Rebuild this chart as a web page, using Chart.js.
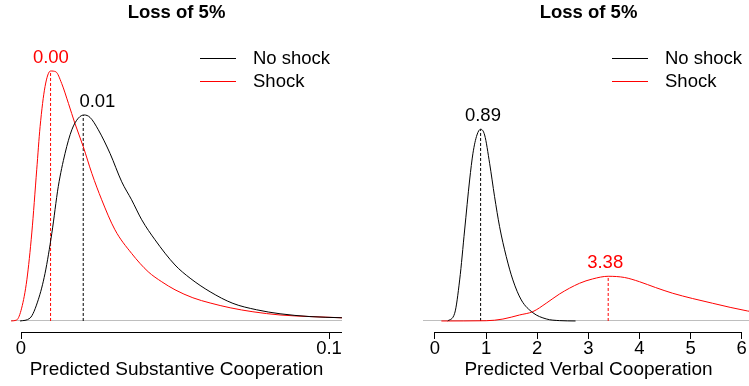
<!DOCTYPE html>
<html>
<head>
<meta charset="utf-8">
<title>Loss of 5%</title>
<script src="https://cdn.jsdelivr.net/npm/chart.js"></script>
<style>
  html, body { margin: 0; padding: 0; overflow: hidden; background: #fff; }
  body { width: 749px; height: 386px; position: relative; }
  .panel { position: absolute; top: 0; width: 374px; height: 386px; }
  #p1 { left: 0; }
  #p2 { left: 412px; }
</style>
</head>
<body>
<div class="panel" id="p1"><canvas id="subst" width="374" height="386"></canvas></div>
<div class="panel" id="p2"><canvas id="verbal" width="374" height="386"></canvas></div>
<script>
const seriesNames = ['No shock', 'Shock'];
const seriesColors = ['#000000', '#ff0000'];

// left: predicted substantive cooperation (densities)
const substNoShockX = [-0.0003, 0.0029, 0.0056, 0.0078, 0.0100, 0.0121, 0.0143, 0.0165, 0.0186, 0.0205, 0.0224, 0.0251, 0.0289, 0.0327, 0.0359, 0.0392, 0.0435, 0.0500, 0.0549, 0.0614, 0.0688, 0.0765, 0.0841, 0.0938, 0.1042];
const substNoShockY = [0, 0.7, 5.3, 11.9, 21.9, 33.6, 41.9, 47.8, 50.7, 51.5, 50.9, 47.8, 41.9, 34.8, 30.3, 25.3, 20.3, 14.0, 10.7, 7.3, 4.4, 2.8, 1.8, 1.1, 0.8];
const substShockX = [-0.0036, -0.0014, 0.0002, 0.0019, 0.0035, 0.0051, 0.0062, 0.0078, 0.0096, 0.0113, 0.0132, 0.0154, 0.0175, 0.0202, 0.0230, 0.0262, 0.0305, 0.0359, 0.0413, 0.0457, 0.0500, 0.0558, 0.0614, 0.0679, 0.0753, 0.0841, 0.0938, 0.1042];
const substShockY = [0, 0.25, 3.2, 10.3, 22, 37.8, 48.6, 58.6, 62.5, 62.3, 59.4, 54.4, 49.4, 43.6, 36.9, 30.3, 22.8, 16.9, 12.3, 9.8, 7.8, 5.8, 4.5, 3.3, 2.3, 1.5, 1.1, 0.8];
const substModeX = [0.0202, 0.0096];
const substModeY = [51.5, 62.5];
const substModeLabels = ['0.01', '0.00'];
const substLabelX = [0.0248, 0.0097];
const substTicks = [0, 0.1];

// right: predicted verbal cooperation
const verbalNoShockX = [0.25, 0.385, 0.483, 0.58, 0.678, 0.743, 0.821, 0.893, 0.971, 1.069, 1.166, 1.264, 1.395, 1.524, 1.689, 1.915, 2.177, 2.437, 2.75];
const verbalNoShockY = [0, 0.064, 0.342, 0.758, 1.175, 1.398, 1.55, 1.598, 1.55, 1.314, 1.036, 0.786, 0.536, 0.342, 0.175, 0.069, 0.017, 0.003, 0];
const verbalShockX = [0.125, 1.004, 1.329, 1.655, 1.915, 2.177, 2.437, 2.828, 3.082, 3.389, 3.707, 4.0, 4.313, 4.651, 5.036, 5.433, 6.117, 6.248];
const verbalShockY = [0, 0.002, 0.016, 0.05, 0.078, 0.148, 0.225, 0.314, 0.35, 0.3725, 0.3625, 0.3275, 0.279, 0.231, 0.1875, 0.1475, 0.083, 0.075];
const verbalModeX = [0.893, 3.389];
const verbalModeY = [1.598, 0.3725];
const verbalModeLabels = ['0.89', '3.38'];
const verbalLabelX = [0.938, 3.33];
const verbalTicks = [0, 1, 2, 3, 4, 5, 6];

const fontFamily = '"Liberation Sans", Arial, Helvetica, sans-serif';
const textSize = 18.5;
Chart.defaults.font.family = fontFamily;
Chart.defaults.color = '#000';

const zip = (xs, ys) => xs.map((x, i) => ({ x: x, y: ys[i] }));

// R-style axis line, mode labels and the legend in the top right
const extras = {
  id: 'extras',
  afterDatasetsDraw(chart, args, o) {
    const { ctx, chartArea: area, scales: { x, y } } = chart;
    ctx.save();
    ctx.lineWidth = 1;
    ctx.strokeStyle = '#000';
    const ay = Math.round(area.bottom) + 0.5;
    ctx.beginPath();
    ctx.moveTo(Math.round(x.getPixelForValue(o.axisFrom)), ay);
    ctx.lineTo(Math.min(x.getPixelForValue(o.axisTo), area.right), ay);
    ctx.stroke();

    ctx.font = textSize + 'px ' + fontFamily;
    ctx.textAlign = 'center';
    ctx.textBaseline = 'middle';
    o.labels.forEach((t, i) => {
      ctx.fillStyle = seriesColors[i];
      ctx.fillText(t, x.getPixelForValue(o.labelX[i]), y.getPixelForValue(o.peakY[i]) - 13);
    });

    ctx.textAlign = 'left';
    chart.data.datasets.filter(d => !d.helper).forEach((d, i) => {
      const ly = 58 + i * 23;
      ctx.strokeStyle = d.borderColor;
      ctx.beginPath();
      ctx.moveTo(area.right - 142, ly + 0.5);
      ctx.lineTo(area.right - 106, ly + 0.5);
      ctx.stroke();
      ctx.fillStyle = '#000';
      ctx.fillText(d.label, area.right - 89, ly + 0.5);
    });
    ctx.restore();
  }
};

function densityChart(id, p) {
  const modeLines = p.modeX.map((m, i) => ({
    helper: true,
    data: [{ x: m, y: 0 }, { x: m, y: p.modeY[i] }],
    borderColor: seriesColors[i],
    borderDash: [3, 2],
    cubicInterpolationMode: 'default',
    tension: 0
  }));
  return new Chart(document.getElementById(id), {
    type: 'line',
    data: {
      datasets: [
        { label: seriesNames[0], data: zip(p.noX, p.noY), borderColor: seriesColors[0] },
        { label: seriesNames[1], data: zip(p.shX, p.shY), borderColor: seriesColors[1] }
      ].concat(modeLines)
    },
    options: {
      responsive: false,
      animation: false,
      layout: { padding: { left: 11, right: 32, top: 0, bottom: 0 } },
      elements: {
        point: { radius: 0 },
        line: { borderWidth: 1, fill: false, cubicInterpolationMode: 'monotone' }
      },
      plugins: {
        legend: { display: false },
        tooltip: { enabled: false },
        title: {
          display: true, text: 'Loss of 5%', fullSize: false, color: '#000',
          font: { size: textSize, weight: 'bold', lineHeight: 1.2 },
          padding: { top: 1.6, bottom: 11.2 }
        },
        extras: { axisFrom: p.ticks[0], axisTo: p.axisTo, labels: p.labels, labelX: p.labelX, peakY: p.modeY }
      },
      scales: {
        x: {
          type: 'linear', min: p.xmin, max: p.xmax,
          afterBuildTicks: s => { s.ticks = p.ticks.map(v => ({ value: v })); },
          ticks: { font: { size: textSize, lineHeight: 1.1 }, padding: 0, maxRotation: 0, autoSkip: false, color: '#000', callback: v => String(v) },
          grid: { drawOnChartArea: false, drawTicks: true, tickLength: 7, color: '#000' },
          border: { display: false },
          title: { display: true, text: p.title, color: '#000', font: { size: 19, lineHeight: 1.12 }, padding: { top: 0, bottom: 5.4 } }
        },
        y: {
          min: p.ymin, max: p.ymax,
          afterBuildTicks: s => { s.ticks = [{ value: 0 }]; },
          ticks: { display: false },
          grid: { color: '#bebebe', drawTicks: false },
          border: { display: false }
        }
      }
    },
    plugins: [extras]
  });
}

densityChart('subst', {
  noX: substNoShockX, noY: substNoShockY, shX: substShockX, shY: substShockY,
  modeX: substModeX, modeY: substModeY, labels: substModeLabels, labelX: substLabelX,
  ticks: substTicks, axisTo: 0.2, xmin: -0.00325, xmax: 0.10422, ymin: -2.75, ymax: 71.5,
  title: 'Predicted Substantive Cooperation'
});

densityChart('verbal', {
  noX: verbalNoShockX, noY: verbalNoShockY, shX: verbalShockX, shY: verbalShockY,
  modeX: verbalModeX, modeY: verbalModeY, labels: verbalModeLabels, labelX: verbalLabelX,
  ticks: verbalTicks, axisTo: 6, xmin: -0.2345, xmax: 6.242, ymin: -11 / 120, ymax: 286 / 120,
  title: 'Predicted Verbal Cooperation'
});
</script>
</body>
</html>
